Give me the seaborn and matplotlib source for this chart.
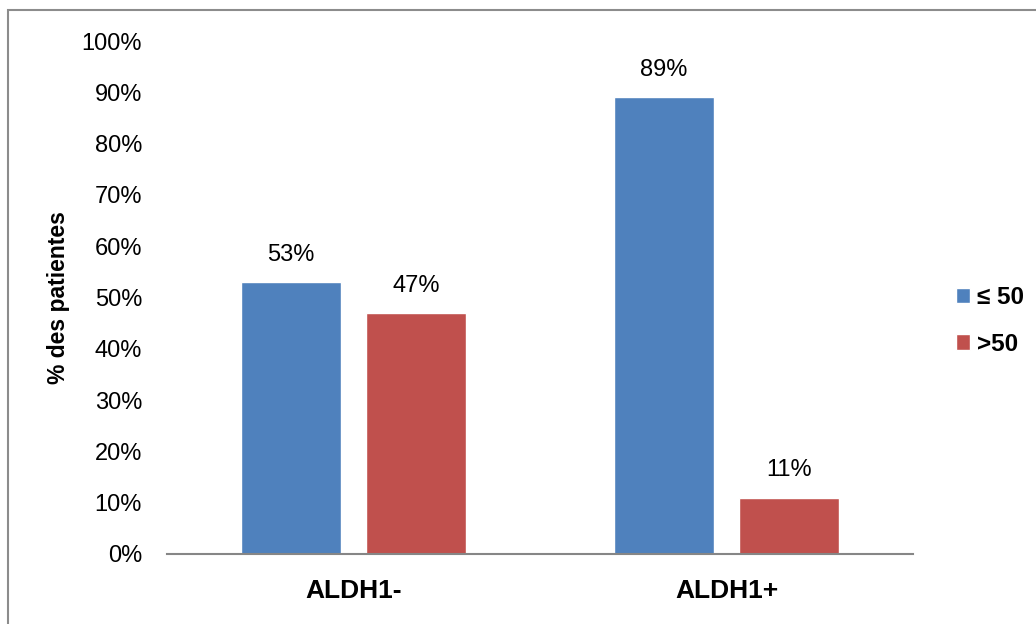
import pandas as pd
import matplotlib.pyplot as plt
import matplotlib.patches as mpatches
import seaborn as sns

# data
groups = ["ALDH1-", "ALDH1-", "ALDH1+", "ALDH1+"]
ages = ["≤ 50", ">50", "≤ 50", ">50"]
percents = [53, 47, 89, 11]

df = pd.DataFrame({"groupe": groups, "age": ages, "pct": percents})

sns.set_style("white")
plt.rcParams["font.family"] = ["Liberation Sans", "DejaVu Sans"]
plt.rcParams["text.color"] = "black"
plt.rcParams["xtick.color"] = "black"
plt.rcParams["ytick.color"] = "black"
plt.rcParams["axes.labelcolor"] = "black"

fig = plt.figure(figsize=(10.36, 6.24), dpi=100)
ax = fig.add_axes([167 / 1036, 70 / 624, 746 / 1036, 513 / 624])

palette = {"≤ 50": "#4F81BD", ">50": "#C0504D"}
sns.barplot(data=df, x="groupe", y="pct", hue="age", palette=palette,
            width=0.67, gap=0.2, saturation=1, ax=ax)

ax.set_ylim(0, 100)
ax.set_xlim(-0.5, 1.5)
ax.set_yticks(range(0, 101, 10))
ax.set_yticklabels([f"{v}%" for v in range(0, 101, 10)], fontsize=17)
ax.tick_params(axis="y", length=0, pad=18)
ax.tick_params(axis="x", length=0, pad=18, labelsize=19)
for lbl in ax.get_xticklabels():
    lbl.set_fontweight("bold")

for side in ["top", "right", "left"]:
    ax.spines[side].set_visible(False)
ax.spines["bottom"].set_color("#868686")
ax.spines["bottom"].set_linewidth(1.5)

ax.set_xlabel("")
ax.set_ylabel("% des patientes", fontsize=16.5, fontweight="bold", labelpad=8)

# value labels above bars
for cont in ax.containers:
    for bar in cont:
        h = bar.get_height()
        ax.annotate(f"{h:.0f}%", (bar.get_x() + bar.get_width() / 2, h),
                    xytext=(0, 19.5), textcoords="offset points",
                    ha="center", va="center", fontsize=17)

handles, labels = ax.get_legend_handles_labels()
leg = ax.legend(handles, labels, loc="center left",
                bbox_to_anchor=(956 / 1036, 303 / 624),
                bbox_transform=fig.transFigure, frameon=False,
                borderpad=0, borderaxespad=0,
                handlelength=0.58, handleheight=0.58, handletextpad=0.3,
                labelspacing=0.95, prop={"size": 17.5, "weight": "bold"})

# outer chart border
fig.patches.append(mpatches.Rectangle((8 / 1036, -0.1), 1.2, 1.1 - 10 / 624,
                                      transform=fig.transFigure, fill=False,
                                      edgecolor="#8c8c8c", linewidth=1.5))

fig.savefig("out.png", dpi=100)
